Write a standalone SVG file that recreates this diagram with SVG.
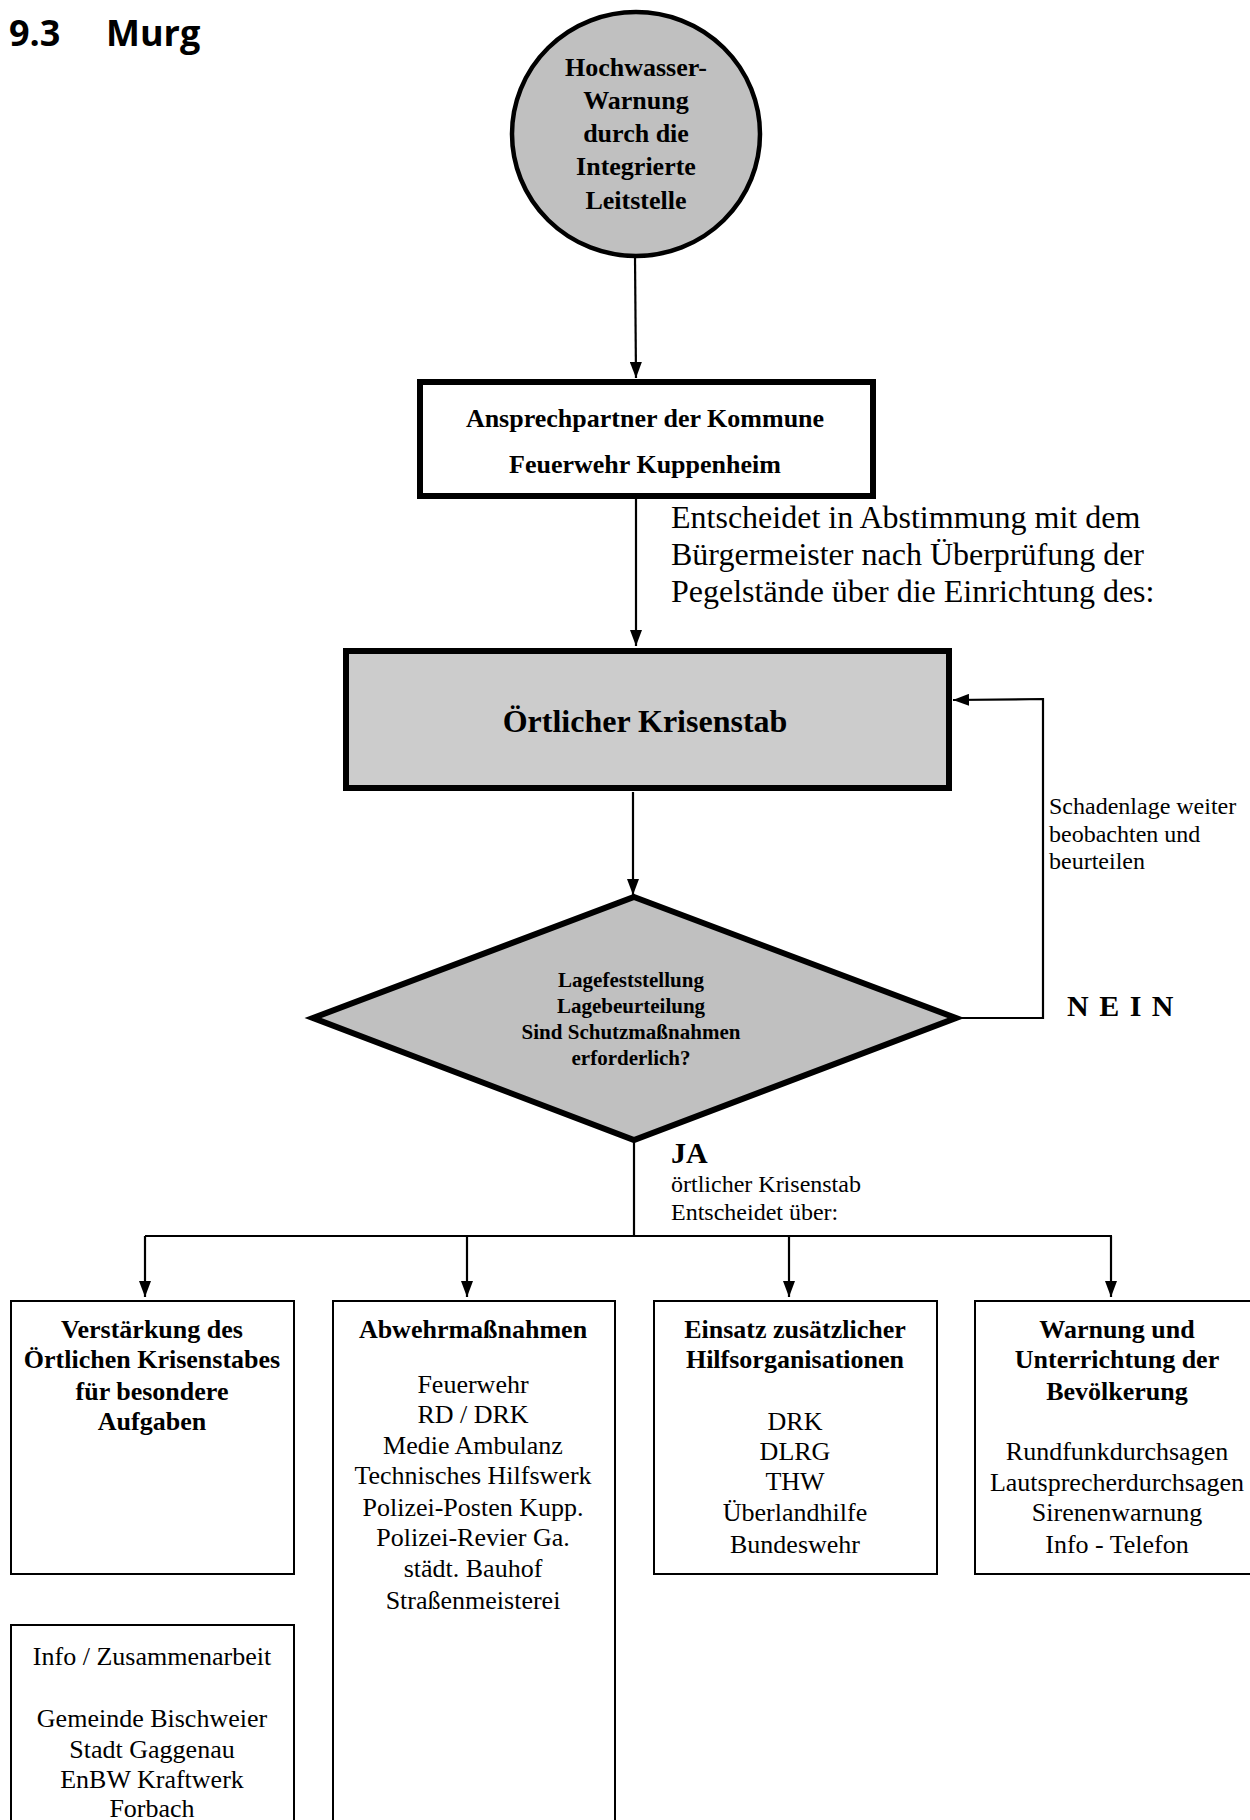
<svg xmlns="http://www.w3.org/2000/svg" width="1250" height="1820" viewBox="0 0 1250 1820">
<defs>
<marker id="ah" viewBox="0 0 16 12" refX="16" refY="6" markerWidth="16" markerHeight="12" markerUnits="userSpaceOnUse" orient="auto">
<path d="M0,0 L16,6 L0,12 z" fill="#000"/>
</marker>
<style>
.b{font-family:"Liberation Serif","Times New Roman",serif;font-weight:bold;fill:#000;text-anchor:middle}
.r{font-family:"Liberation Serif","Times New Roman",serif;fill:#000;text-anchor:middle}
.l{font-family:"Liberation Serif","Times New Roman",serif;fill:#000}
.c{fill:none;stroke:#000;stroke-width:2.2}
.ca{fill:none;stroke:#000;stroke-width:2.2;marker-end:url(#ah)}
.box{fill:#fff;stroke:#000;stroke-width:2}
</style>
</defs>
<rect width="1250" height="1820" fill="#fff"/>
<g id="title">
<text x="9" y="46" font-family="'Open Sans',sans-serif" font-weight="bold" font-size="36">9.3</text>
<text x="106" y="46" font-family="'Open Sans',sans-serif" font-weight="bold" font-size="36">Murg</text>
</g>
<g id="connectors">
<line class="ca" x1="635" y1="257" x2="636" y2="378"/>
<line class="ca" x1="636" y1="498" x2="636" y2="646"/>
<line class="ca" x1="633" y1="792" x2="633" y2="895"/>
<polyline class="ca" points="956,1018 1043,1018 1043,699 953,700"/>
<polyline class="c" points="634,1140 634,1236"/>
<line class="c" x1="145" y1="1236" x2="1112" y2="1236"/>
<line class="ca" x1="145" y1="1236" x2="145" y2="1297"/>
<line class="ca" x1="467" y1="1236" x2="467" y2="1297"/>
<line class="ca" x1="789" y1="1236" x2="789" y2="1297"/>
<line class="ca" x1="1111" y1="1236" x2="1111" y2="1297"/>
</g>
<g id="n-warnung-ils">
<ellipse cx="636" cy="134" rx="124" ry="122" fill="#c0c0c0" stroke="#000" stroke-width="4.5"/>
<text class="b" font-size="26" x="636" y="76">Hochwasser-</text>
<text class="b" font-size="26" x="636" y="109">Warnung</text>
<text class="b" font-size="26" x="636" y="142">durch die</text>
<text class="b" font-size="26" x="636" y="175">Integrierte</text>
<text class="b" font-size="26" x="636" y="209">Leitstelle</text>
</g>
<g id="n-ansprechpartner">
<rect x="420" y="382" width="453" height="114" fill="#fff" stroke="#000" stroke-width="6"/>
<text class="b" font-size="26" x="645" y="427">Ansprechpartner der Kommune</text>
<text class="b" font-size="26" x="645" y="473">Feuerwehr Kuppenheim</text>
</g>
<g id="l-entscheidet">
<text class="l" font-size="32" x="671" y="528">Entscheidet in Abstimmung mit dem</text>
<text class="l" font-size="32" x="671" y="565">Bürgermeister nach Überprüfung der</text>
<text class="l" font-size="32" x="671" y="602">Pegelstände über die Einrichtung des:</text>
</g>
<g id="n-krisenstab">
<rect x="346" y="651" width="603" height="137" fill="#cccccc" stroke="#000" stroke-width="6"/>
<text class="b" font-size="32" x="645" y="732">Örtlicher Krisenstab</text>
</g>
<g id="n-lage">
<polygon points="634,897 956,1018 634,1140 313,1018" fill="#c0c0c0" stroke="#000" stroke-width="6" stroke-linejoin="miter"/>
<text class="b" font-size="21" x="631" y="987">Lagefeststellung</text>
<text class="b" font-size="21" x="631" y="1013">Lagebeurteilung</text>
<text class="b" font-size="21" x="631" y="1039">Sind Schutzmaßnahmen</text>
<text class="b" font-size="21" x="631" y="1065">erforderlich?</text>
</g>
<g id="l-schaden">
<text class="l" font-size="24" x="1049" y="814">Schadenlage weiter</text>
<text class="l" font-size="24" x="1049" y="842">beobachten und</text>
<text class="l" font-size="24" x="1049" y="869">beurteilen</text>
</g>
<g id="l-nein">
<text class="l" font-weight="bold" font-size="30" x="1067" y="1016" letter-spacing="1.5">N E I N</text>
</g>
<g id="l-ja">
<text class="l" font-weight="bold" font-size="30" x="671" y="1163">JA</text>
<text class="l" font-size="24" x="671" y="1192">örtlicher Krisenstab</text>
<text class="l" font-size="24" x="671" y="1220">Entscheidet über:</text>
</g>
<g id="n-verstaerkung">
<rect class="box" x="11" y="1301" width="283" height="273"/>
<text class="b" font-size="26" x="152" y="1338">Verstärkung des</text>
<text class="b" font-size="26" x="152" y="1368">Örtlichen Krisenstabes</text>
<text class="b" font-size="26" x="152" y="1400">für besondere</text>
<text class="b" font-size="26" x="152" y="1430">Aufgaben</text>
</g>
<g id="n-abwehr">
<rect class="box" x="333" y="1301" width="282" height="540"/>
<text class="b" font-size="26" x="473" y="1338">Abwehrmaßnahmen</text>
<text class="r" font-size="26" x="473" y="1393">Feuerwehr</text>
<text class="r" font-size="26" x="473" y="1423">RD / DRK</text>
<text class="r" font-size="26" x="473" y="1454">Medie Ambulanz</text>
<text class="r" font-size="26" x="473" y="1484">Technisches Hilfswerk</text>
<text class="r" font-size="26" x="473" y="1516">Polizei-Posten Kupp.</text>
<text class="r" font-size="26" x="473" y="1546">Polizei-Revier Ga.</text>
<text class="r" font-size="26" x="473" y="1577">städt. Bauhof</text>
<text class="r" font-size="26" x="473" y="1609">Straßenmeisterei</text>
</g>
<g id="n-einsatz">
<rect class="box" x="654" y="1301" width="283" height="273"/>
<text class="b" font-size="26" x="795" y="1338">Einsatz zusätzlicher</text>
<text class="b" font-size="26" x="795" y="1368">Hilfsorganisationen</text>
<text class="r" font-size="26" x="795" y="1430">DRK</text>
<text class="r" font-size="26" x="795" y="1460">DLRG</text>
<text class="r" font-size="26" x="795" y="1490">THW</text>
<text class="r" font-size="26" x="795" y="1521">Überlandhilfe</text>
<text class="r" font-size="26" x="795" y="1553">Bundeswehr</text>
</g>
<g id="n-warnung-bev">
<rect class="box" x="975" y="1301" width="290" height="273"/>
<text class="b" font-size="26" x="1117" y="1338">Warnung und</text>
<text class="b" font-size="26" x="1117" y="1368">Unterrichtung der</text>
<text class="b" font-size="26" x="1117" y="1400">Bevölkerung</text>
<text class="r" font-size="26" x="1117" y="1460">Rundfunkdurchsagen</text>
<text class="r" font-size="26" x="1117" y="1491">Lautsprecherdurchsagen</text>
<text class="r" font-size="26" x="1117" y="1521">Sirenenwarnung</text>
<text class="r" font-size="26" x="1117" y="1553">Info - Telefon</text>
</g>
<g id="n-info">
<rect class="box" x="11" y="1625" width="283" height="220"/>
<text class="r" font-size="26" x="152" y="1665">Info / Zusammenarbeit</text>
<text class="r" font-size="26" x="152" y="1727">Gemeinde Bischweier</text>
<text class="r" font-size="26" x="152" y="1758">Stadt Gaggenau</text>
<text class="r" font-size="26" x="152" y="1788">EnBW Kraftwerk</text>
<text class="r" font-size="26" x="152" y="1817">Forbach</text>
</g>
</svg>
